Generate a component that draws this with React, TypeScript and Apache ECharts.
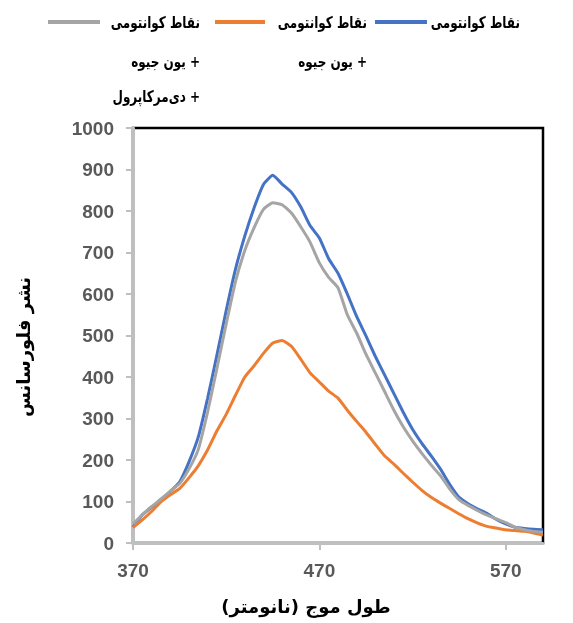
import React, { useEffect, useRef } from "react";
import * as echarts from "echarts";

const wavelengths = [
  370, 375, 380, 385, 390, 395, 400, 405, 410, 415, 420, 425, 430, 435, 440,
  445, 450, 455, 460, 465, 470, 475, 480, 485, 490, 495, 500, 505, 510, 515,
  520, 525, 530, 535, 540, 545, 550, 555, 560, 565, 570, 575, 580, 585, 590,
];

const blueName = "نقاط کوانتومی";
const orangeName = "نقاط کوانتومی + یون جیوه";
const grayName = "نقاط کوانتومی + یون جیوه + دی‌مرکاپرول";

const blueValues = [
  38, 68, 86, 104, 124, 147, 195, 255, 348, 452, 560, 660, 740, 808, 864,
  886, 865, 845, 810, 765, 735, 685, 650, 600, 546, 499, 450, 405, 360, 315,
  274, 240, 210, 178, 141, 110, 94, 82, 71, 57, 46, 38, 35, 33, 32,
];

const orangeValues = [
  37, 56, 76, 99, 116, 131, 157, 186, 224, 270, 310, 356, 400, 427, 457,
  482, 488, 474, 443, 410, 388, 366, 349, 320, 293, 267, 238, 210, 190, 168,
  147, 127, 110, 96, 83, 70, 58, 48, 40, 36, 32, 30, 28, 24, 19,
];

const grayValues = [
  46, 68, 88, 106, 125, 143, 178, 225, 315, 420, 528, 630, 705, 760, 804,
  820, 815, 795, 762, 725, 675, 640, 615, 550, 506, 455, 410, 365, 320, 280,
  246, 216, 188, 162, 130, 104, 90, 78, 67, 58, 49, 38, 32, 28, 26,
];

const xTitle = "طول موج (نانومتر)";
const yTitle = "نشر فلورسانس";
const legendLine1 = "نقاط کوانتومی";
const legendLine2 = "+ یون جیوه";
const legendLine3 = "+ دی‌مرکاپرول";

const RLM = "\u200F";
const rtl = (s: string) => RLM + s + RLM;

const COLORS = { blue: "#4472C4", orange: "#ED7D31", gray: "#A5A5A5" };
const AXIS_GRAY = "#BFBFBF";
const LABEL_GRAY = "#595959";
const FA_FONT = '"DejaVu Sans", sans-serif';

export default function App() {
  const ref = useRef<HTMLDivElement>(null);

  useEffect(() => {
    if (!ref.current) return;
    const chart = echarts.init(ref.current, undefined, { renderer: "svg" });
    const showEvery = (i: number) => i % 20 === 0;

    const legendText = (text: string, x: number, y: number) => ({
      type: "text",
      x,
      y,
      scaleX: 0.75,
      style: {
        text: rtl(text),
        fill: "#000",
        font: `bold 16px ${FA_FONT}`,
        textAlign: "right",
        textVerticalAlign: "middle",
        align: "right",
        verticalAlign: "middle",
      },
    });
    const legendLine = (x1: number, x2: number, color: string) => ({
      type: "line",
      shape: { x1, y1: 22, x2, y2: 22 },
      style: { stroke: color, lineWidth: 4 },
    });

    chart.setOption({
      animation: false,
      grid: {
        left: 133,
        right: 30,
        top: 128,
        bottom: 80,
        show: true,
        borderColor: "#000",
        borderWidth: 2.5,
        backgroundColor: "transparent",
      },
      xAxis: {
        type: "category",
        data: wavelengths.map(String),
        boundaryGap: false,
        axisLine: { lineStyle: { color: AXIS_GRAY, width: 3 } },
        axisTick: {
          show: true,
          interval: showEvery,
          length: 7,
          lineStyle: { color: AXIS_GRAY, width: 2 },
        },
        axisLabel: {
          interval: showEvery,
          margin: 18,
          color: LABEL_GRAY,
          fontWeight: "bold",
          fontSize: 19,
          fontFamily: '"Liberation Sans", Arial, sans-serif',
        },
        splitLine: { show: false },
      },
      yAxis: {
        type: "value",
        min: 0,
        max: 1000,
        interval: 100,
        axisLine: { show: true, lineStyle: { color: AXIS_GRAY, width: 3 } },
        axisTick: {
          show: true,
          length: 7,
          lineStyle: { color: AXIS_GRAY, width: 2 },
        },
        axisLabel: {
          margin: 19,
          color: LABEL_GRAY,
          fontWeight: "bold",
          fontSize: 19,
          fontFamily: '"Liberation Sans", Arial, sans-serif',
          formatter: (v: number) => String(v),
        },
        splitLine: { show: false },
      },
      series: [
        {
          name: blueName,
          type: "line",
          data: blueValues,
          showSymbol: false,
          smooth: 0.15,
          lineStyle: { color: COLORS.blue, width: 3 },
          itemStyle: { color: COLORS.blue },
          z: 2,
        },
        {
          name: orangeName,
          type: "line",
          data: orangeValues,
          showSymbol: false,
          smooth: 0.15,
          lineStyle: { color: COLORS.orange, width: 3 },
          itemStyle: { color: COLORS.orange },
          z: 3,
        },
        {
          name: grayName,
          type: "line",
          data: grayValues,
          showSymbol: false,
          smooth: 0.15,
          lineStyle: { color: COLORS.gray, width: 3 },
          itemStyle: { color: COLORS.gray },
          z: 4,
        },
      ],
      graphic: [
        legendLine(48, 100, COLORS.gray),
        legendText(legendLine1, 200, 22),
        legendText(legendLine2, 200, 61),
        legendText(legendLine3, 200, 96),
        legendLine(215, 265, COLORS.orange),
        legendText(legendLine1, 367, 22),
        legendText(legendLine2, 367, 61),
        legendLine(375, 427, COLORS.blue),
        legendText(legendLine1, 520, 22),
        {
          type: "text",
          x: 306,
          y: 606,
          style: {
            text: rtl(xTitle),
            fill: "#000",
            font: `bold 18px ${FA_FONT}`,
            textAlign: "center",
            textVerticalAlign: "middle",
            align: "center",
            verticalAlign: "middle",
          },
        },
        {
          type: "text",
          x: 23,
          y: 347,
          rotation: Math.PI / 2,
          style: {
            text: rtl(yTitle),
            fill: "#000",
            font: `bold 18px ${FA_FONT}`,
            textAlign: "center",
            textVerticalAlign: "middle",
            align: "center",
            verticalAlign: "middle",
          },
        },
      ],
    });
    return () => chart.dispose();
  }, []);

  return (
    <div
      ref={ref}
      style={{ position: "fixed", left: 0, top: 0, width: 573, height: 623 }}
    />
  );
}
